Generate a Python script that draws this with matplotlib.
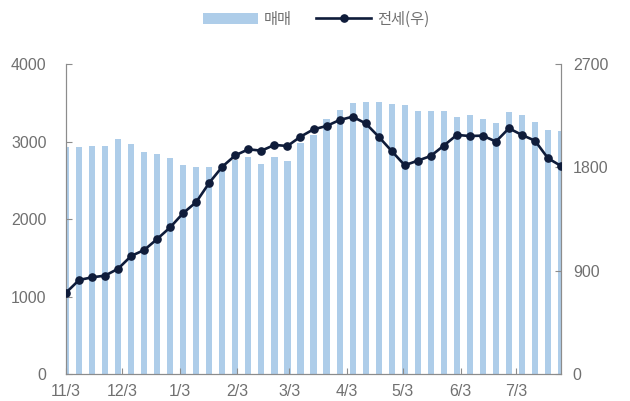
import pandas as pd
import matplotlib
matplotlib.use("Agg")
import matplotlib.pyplot as plt

plt.rcParams['font.family'] = ['Liberation Sans', 'Noto Sans CJK KR', 'DejaVu Sans']

# weekly data
dates = pd.date_range("2020-11-03", periods=39, freq="7D")
sales = [2933, 2933, 2946, 2946, 3032, 2972, 2869, 2834, 2783, 2697,
         2671, 2667, 2660, 2765, 2800, 2705, 2800, 2753, 2976, 3084,
         3286, 3406, 3492, 3505, 3505, 3488, 3469, 3398, 3398, 3389,
         3320, 3346, 3286, 3234, 3376, 3342, 3256, 3153, 3131]
jeonse = [708, 819, 842, 857, 917, 1028, 1080, 1176, 1278, 1402,
          1498, 1666, 1806, 1905, 1957, 1945, 1995, 1986, 2067, 2131,
          2160, 2212, 2241, 2183, 2067, 1942, 1818, 1858, 1899, 1989,
          2082, 2073, 2076, 2024, 2140, 2082, 2032, 1879, 1812]
tick_dates = pd.to_datetime(["2020-11-03", "2020-12-03", "2021-01-03", "2021-02-03",
                             "2021-03-03", "2021-04-03", "2021-05-03", "2021-06-03",
                             "2021-07-03"])
tick_labels = ["11/3", "12/3", "1/3", "2/3", "3/3", "4/3", "5/3", "6/3", "7/3"]

bar_c = "#aecde9"
line_c = "#0f1c3a"
txt_c = "#707070"
spine_c = "#8c8c8c"

fig = plt.figure(figsize=(6.3, 4.01), dpi=100)
ax = fig.add_axes([0.1048, 0.0673, 0.7857, 0.7731])
ax2 = ax.twinx()

ax.bar(dates, sales, width=3.3, color=bar_c, label="매매", zorder=1)
ax2.plot(dates, jeonse, color=line_c, lw=1.9, marker="o", ms=5.2,
         label="전세(우)", zorder=3)

ax.set_ylim(0, 4000)
ax.set_yticks([0, 1000, 2000, 3000, 4000])
ax2.set_ylim(0, 2700)
ax2.set_yticks([0, 900, 1800, 2700])
ax.set_xlim(dates[0], dates[-1])
ax.set_xticks(tick_dates)
ax.set_xticklabels(tick_labels)

for a in (ax, ax2):
    a.spines['top'].set_visible(False)
    for s in ('left', 'right', 'bottom'):
        a.spines[s].set_color(spine_c)
    a.tick_params(direction="in", length=4, color=spine_c, labelcolor=txt_c,
                  labelsize=11.5)
ax.tick_params(axis='y', pad=14)
ax2.tick_params(axis='y', pad=8.5)
ax.tick_params(axis='x', pad=7)

h1, l1 = ax.get_legend_handles_labels()
h2, l2 = ax2.get_legend_handles_labels()
leg = fig.legend(h1 + h2, l1 + l2, loc="center", bbox_to_anchor=(0.502, 0.952),
                 ncol=2, frameon=False, handlelength=3.6,
                 prop={'family': ['Noto Sans CJK KR', 'DejaVu Sans'], 'size': 11},
                 handletextpad=0.4, columnspacing=1.6, labelcolor=txt_c)

fig.savefig("out.png", dpi=100)
